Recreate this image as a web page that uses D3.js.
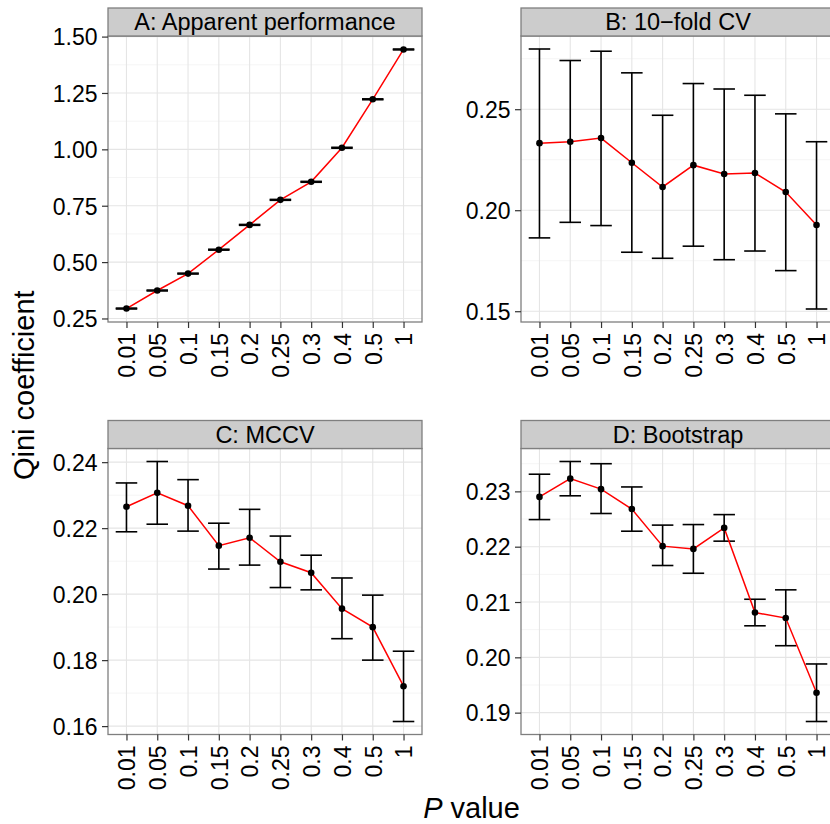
<!DOCTYPE html>
<html>
<head>
<meta charset="utf-8">
<script src="https://cdn.jsdelivr.net/npm/d3@7"></script>
<style>
  html, body { margin: 0; padding: 0; background: #fff; }
  svg { display: block; font-family: "Liberation Sans", Arial, Helvetica, sans-serif; }
</style>
</head>
<body>
<svg id="chart" width="830" height="824"></svg>
<script>
// ---------- DATA ----------
const categories = ["0.01", "0.05", "0.1", "0.15", "0.2", "0.25", "0.3", "0.4", "0.5", "1"];

const apparentMean  = [0.294, 0.374, 0.449, 0.555, 0.665, 0.776, 0.856, 1.007, 1.222, 1.443];
const apparentLower = [0.292, 0.372, 0.447, 0.553, 0.663, 0.774, 0.854, 1.005, 1.220, 1.441];
const apparentUpper = [0.296, 0.376, 0.451, 0.557, 0.667, 0.778, 0.858, 1.009, 1.224, 1.445];

const cvMean  = [0.2332, 0.2339, 0.2357, 0.2235, 0.2115, 0.2223, 0.2179, 0.2184, 0.2090, 0.1927];
const cvLower = [0.1863, 0.1940, 0.1924, 0.1792, 0.1762, 0.1822, 0.1755, 0.1798, 0.1701, 0.1511];
const cvUpper = [0.2798, 0.2741, 0.2787, 0.2680, 0.2470, 0.2627, 0.2600, 0.2569, 0.2477, 0.2339];

const mccvMean  = [0.2265, 0.2307, 0.2268, 0.2147, 0.2171, 0.2098, 0.2065, 0.1956, 0.1900, 0.1721];
const mccvLower = [0.2189, 0.2212, 0.2191, 0.2076, 0.2088, 0.2020, 0.2013, 0.1865, 0.1800, 0.1614];
const mccvUpper = [0.2337, 0.2402, 0.2347, 0.2215, 0.2257, 0.2176, 0.2118, 0.2049, 0.1997, 0.1827];

const bootMean  = [0.2290, 0.2323, 0.2304, 0.2268, 0.2201, 0.2196, 0.2234, 0.2081, 0.2071, 0.1936];
const bootLower = [0.2249, 0.2292, 0.2260, 0.2228, 0.2166, 0.2152, 0.2210, 0.2057, 0.2021, 0.1884];
const bootUpper = [0.2331, 0.2354, 0.2350, 0.2308, 0.2239, 0.2240, 0.2258, 0.2105, 0.2122, 0.1988];

const apparentTicks = [0.25, 0.50, 0.75, 1.00, 1.25, 1.50];
const cvTicks       = [0.15, 0.20, 0.25];
const mccvTicks     = [0.16, 0.18, 0.20, 0.22, 0.24];
const bootTicks     = [0.19, 0.20, 0.21, 0.22, 0.23];

const panelTitles = ["A: Apparent performance", "B: 10\u2212fold CV", "C: MCCV", "D: Bootstrap"];
const yTitle = "Qini coefficient";

// ---------- LAYOUT ----------
const svg = d3.select("#chart");
svg.append("rect").attr("width", 830).attr("height", 824).attr("fill", "#fff");

const colX = [108, 521];
const panelW = 314;
const rowStripTop = [8, 420.5];
const stripH = 28;
const panelH = 286;

const panels = [
  { title: panelTitles[0], mean: apparentMean, lower: apparentLower, upper: apparentUpper, ticks: apparentTicks, col: 0, row: 0 },
  { title: panelTitles[1], mean: cvMean, lower: cvLower, upper: cvUpper, ticks: cvTicks, col: 1, row: 0 },
  { title: panelTitles[2], mean: mccvMean, lower: mccvLower, upper: mccvUpper, ticks: mccvTicks, col: 0, row: 1 },
  { title: panelTitles[3], mean: bootMean, lower: bootLower, upper: bootUpper, ticks: bootTicks, col: 1, row: 1 }
];

const fmt = d3.format(".2f");

panels.forEach(p => {
  const left = colX[p.col];
  const right = left + panelW;
  const stripTop = rowStripTop[p.row];
  const top = stripTop + stripH;
  const bottom = top + panelH;

  const lo = d3.min(p.lower), hi = d3.max(p.upper);
  const ex = (hi - lo) * 0.05;
  const y = d3.scaleLinear().domain([lo - ex, hi + ex]).range([bottom, top]);
  const x = d3.scalePoint().domain(categories).range([left, right]).padding(0.6);
  const step = x.step();

  const g = svg.append("g");

  // panel background
  g.append("rect").attr("x", left).attr("y", top).attr("width", panelW).attr("height", panelH).attr("fill", "#fff");

  // minor grid
  const tstep = p.ticks[1] - p.ticks[0];
  const minors = [];
  for (let i = -1; i < p.ticks.length; i++) {
    const v = p.ticks[0] + (i + 0.5) * tstep;
    if (v > y.domain()[0] && v < y.domain()[1]) minors.push(v);
  }
  g.selectAll(".minor").data(minors).enter().append("line")
    .attr("x1", left).attr("x2", right)
    .attr("y1", d => y(d)).attr("y2", d => y(d))
    .attr("stroke", "#f5f5f5").attr("stroke-width", 1);

  // major grid
  g.selectAll(".majorY").data(p.ticks).enter().append("line")
    .attr("x1", left).attr("x2", right)
    .attr("y1", d => y(d)).attr("y2", d => y(d))
    .attr("stroke", "#e5e5e5").attr("stroke-width", 1.1);
  g.selectAll(".majorX").data(categories).enter().append("line")
    .attr("x1", d => x(d)).attr("x2", d => x(d))
    .attr("y1", top).attr("y2", bottom)
    .attr("stroke", "#e5e5e5").attr("stroke-width", 1.1);

  // error bars
  const eb = g.append("g").attr("stroke", "#000").attr("stroke-width", 1.6).attr("fill", "none");
  categories.forEach((c, i) => {
    const cx = x(c);
    eb.append("line").attr("x1", cx).attr("x2", cx).attr("y1", y(p.lower[i])).attr("y2", y(p.upper[i]));
    eb.append("line").attr("x1", cx - 0.35 * step).attr("x2", cx + 0.35 * step).attr("y1", y(p.lower[i])).attr("y2", y(p.lower[i]));
    eb.append("line").attr("x1", cx - 0.35 * step).attr("x2", cx + 0.35 * step).attr("y1", y(p.upper[i])).attr("y2", y(p.upper[i]));
  });

  // line
  const line = d3.line().x((d, i) => x(categories[i])).y(d => y(d));
  g.append("path").datum(p.mean).attr("d", line)
    .attr("fill", "none").attr("stroke", "#ff0000").attr("stroke-width", 1.5);

  // points
  g.selectAll(".pt").data(p.mean).enter().append("circle")
    .attr("cx", (d, i) => x(categories[i])).attr("cy", d => y(d)).attr("r", 3.3).attr("fill", "#000");

  // panel border
  g.append("rect").attr("x", left).attr("y", top).attr("width", panelW).attr("height", panelH)
    .attr("fill", "none").attr("stroke", "#7f7f7f").attr("stroke-width", 1.3);

  // strip
  g.append("rect").attr("x", left).attr("y", stripTop).attr("width", panelW).attr("height", stripH)
    .attr("fill", "#cccccc").attr("stroke", "#7f7f7f").attr("stroke-width", 1.3);
  g.append("text").attr("x", left + panelW / 2).attr("y", stripTop + stripH / 2).attr("dy", "0.36em")
    .attr("text-anchor", "middle").attr("font-size", 23.5).attr("fill", "#000").text(p.title);

  // y axis
  const ya = g.append("g").attr("transform", `translate(${left},0)`)
    .call(d3.axisLeft(y).tickValues(p.ticks).tickFormat(fmt).tickSize(6).tickPadding(4.5));
  ya.select(".domain").remove();
  ya.selectAll(".tick line").attr("stroke", "#333").attr("stroke-width", 1.2);
  ya.selectAll(".tick text").attr("font-size", 23).attr("fill", "#000")
    .attr("font-family", "Liberation Sans, Arial, sans-serif").attr("dy", "0.36em");

  // x axis
  const xa = g.append("g").attr("transform", `translate(0,${bottom})`)
    .call(d3.axisBottom(x).tickSize(6).tickPadding(5));
  xa.select(".domain").remove();
  xa.selectAll(".tick line").attr("stroke", "#333").attr("stroke-width", 1.2);
  xa.selectAll(".tick text").attr("font-size", 23).attr("fill", "#000")
    .attr("font-family", "Liberation Sans, Arial, sans-serif")
    .attr("transform", "rotate(-90)")
    .attr("text-anchor", "end")
    .attr("x", -11).attr("y", 0).attr("dy", "0.36em");
});

// axis titles
svg.append("text")
  .attr("transform", `translate(34,${(36 + 734.5) / 2}) rotate(-90)`)
  .attr("text-anchor", "middle").attr("font-size", 29).attr("fill", "#000")
  .text(yTitle);

const xt = svg.append("text")
  .attr("x", (108 + 835) / 2).attr("y", 818)
  .attr("text-anchor", "middle").attr("font-size", 29).attr("fill", "#000");
xt.append("tspan").attr("font-style", "italic").text("P");
xt.append("tspan").text(" value");
</script>
</body>
</html>
